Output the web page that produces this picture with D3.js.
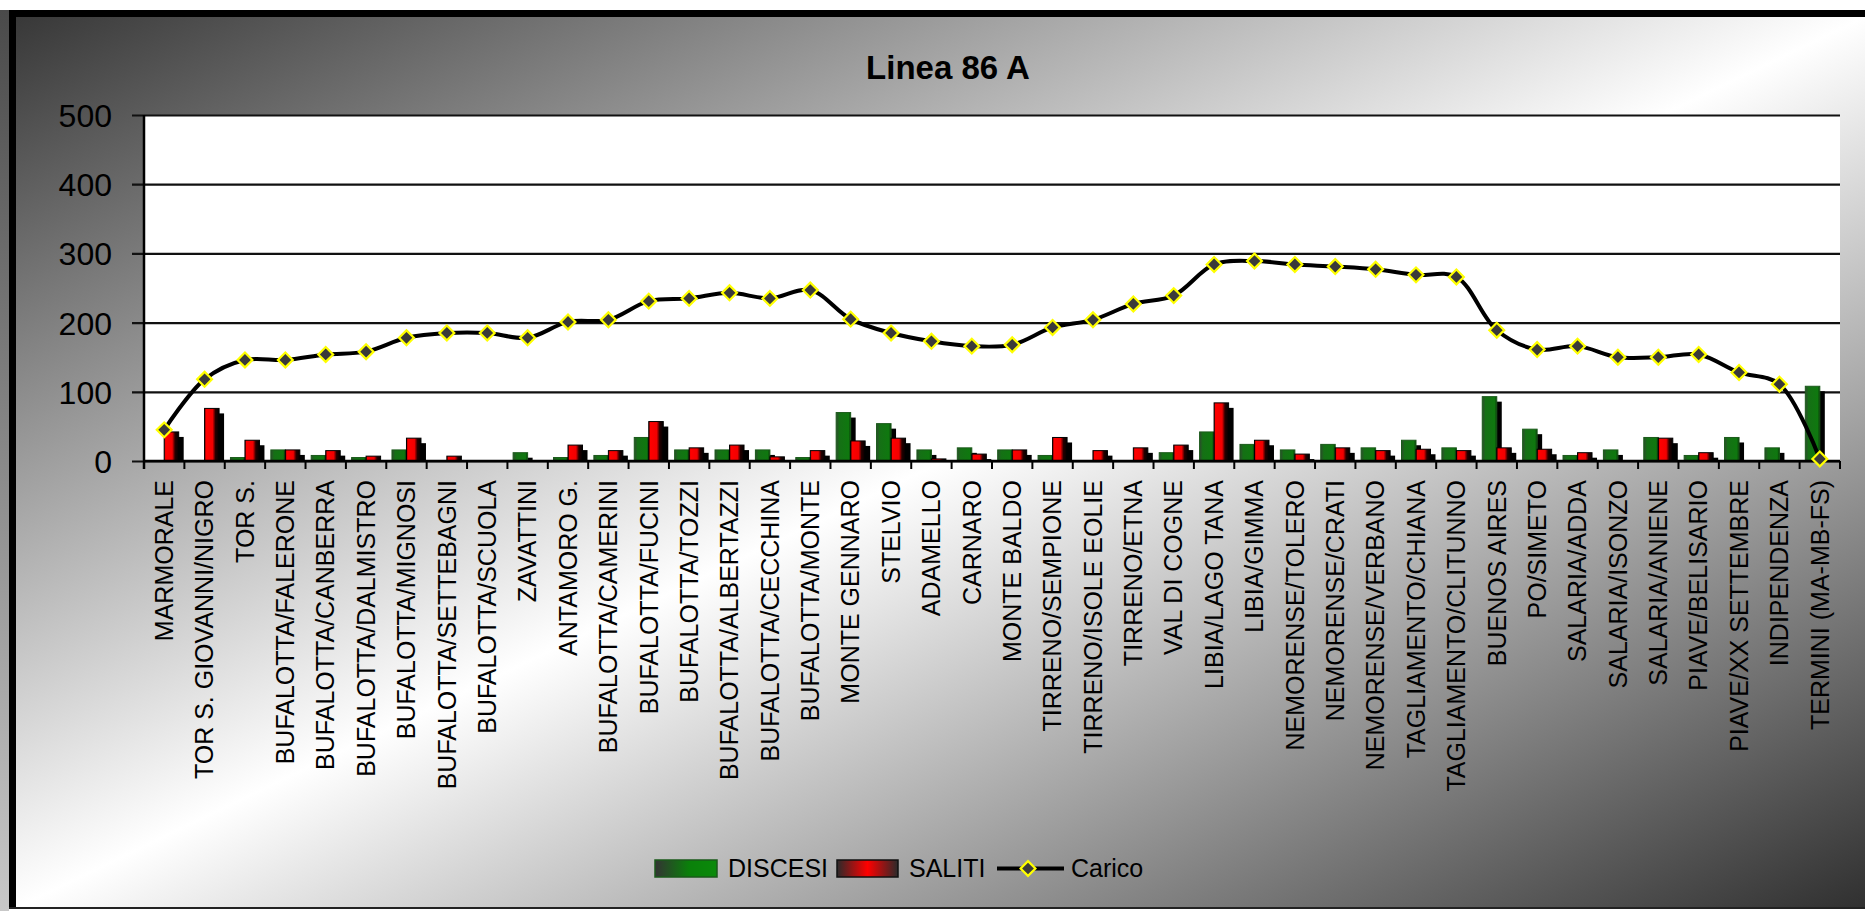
<!DOCTYPE html>
<html><head><meta charset="utf-8">
<script src="https://cdn.jsdelivr.net/npm/d3@7"></script>
<style>
body{margin:0;background:#fff;overflow:hidden}
svg{display:block}
text{font-family:"Liberation Sans",Arial,sans-serif;fill:#000}
</style>
</head><body>
<svg id="c" width="1865" height="911"></svg>
<script>
const title = "Linea 86 A";
const categories = ["MARMORALE","TOR S. GIOVANNI/NIGRO","TOR S.","BUFALOTTA/FALERONE","BUFALOTTA/CANBERRA","BUFALOTTA/DALMISTRO","BUFALOTTA/MIGNOSI","BUFALOTTA/SETTEBAGNI","BUFALOTTA/SCUOLA","ZAVATTINI","ANTAMORO G.","BUFALOTTA/CAMERINI","BUFALOTTA/FUCINI","BUFALOTTA/TOZZI","BUFALOTTA/ALBERTAZZI","BUFALOTTA/CECCHINA","BUFALOTTA/MONTE","MONTE GENNARO","STELVIO","ADAMELLO","CARNARO","MONTE BALDO","TIRRENO/SEMPIONE","TIRRENO/ISOLE EOLIE","TIRRENO/ETNA","VAL DI COGNE","LIBIA/LAGO TANA","LIBIA/GIMMA","NEMORENSE/TOLERO","NEMORENSE/CRATI","NEMORENSE/VERBANO","TAGLIAMENTO/CHIANA","TAGLIAMENTO/CLITUNNO","BUENOS AIRES","PO/SIMETO","SALARIA/ADDA","SALARIA/ISONZO","SALARIA/ANIENE","PIAVE/BELISARIO","PIAVE/XX SETTEMBRE","INDIPENDENZA","TERMINI (MA-MB-FS)"];
const discesi = [0,0,5,16,8,5,16,0,0,12,5,8,34,16,16,16,5,70,54,16,19,16,8,0,0,12,42,24,16,24,19,30,19,93,46,8,16,34,8,34,19,108];
const saliti = [42,76,30,16,15,7,33,7,0,0,23,15,57,19,23,6,15,29,33,3,10,16,34,15,19,23,84,30,10,19,15,17,15,19,17,12,0,33,12,0,0,0];
const carico = [45,118,146,146,154,158,178,185,185,178,201,204,231,235,243,235,247,205,185,173,166,168,193,204,227,239,284,289,284,281,277,269,266,189,161,166,150,150,154,128,111,3];
const yTicks = [0,100,200,300,400,500];
const seriesNames = ["DISCESI","SALITI","Carico"];

const W = 1865, H = 911;
const svg = d3.select("#c");
const defs = svg.append("defs");

function grad(id, x2, y2, stops){
  const g = defs.append("linearGradient").attr("id", id)
    .attr("x1",0).attr("y1",0).attr("x2",x2).attr("y2",y2);
  stops.forEach(s => g.append("stop").attr("offset", s[0]).attr("stop-color", s[1]));
}
grad("bg", 1, 1, [[0,"#383838"],[0.5,"#ffffff"],[1,"#303030"]]);
grad("strip", 0, 1, [[0,"#4a4a4a"],[1,"#c8c8c8"]]);
grad("gbar", 1, 0, [[0,"#2e4a2e"],[0.22,"#157015"],[0.85,"#0f780f"],[1,"#0b3a0b"]]);
grad("rbar", 1, 0, [[0,"#600000"],[0.1,"#ff0000"],[0.55,"#f20000"],[0.75,"#250000"],[1,"#000"]]);
grad("gleg", 1, 0, [[0,"#333"],[0.55,"#0a800a"],[1,"#0a8a0a"]]);
grad("rleg", 1, 0, [[0,"#2a2a2a"],[0.5,"#ff0000"],[1,"#2a2a2a"]]);

// background & frame
svg.append("rect").attr("x",0).attr("y",10).attr("width",9).attr("height",H-10).attr("fill","url(#strip)");
svg.append("rect").attr("x",16).attr("y",17).attr("width",W-16).attr("height",891).attr("fill","url(#bg)");
svg.append("rect").attr("x",9).attr("y",10).attr("width",W-9).attr("height",7).attr("fill","#000");
svg.append("rect").attr("x",9).attr("y",10).attr("width",7).attr("height",899).attr("fill","#000");
svg.append("rect").attr("x",9).attr("y",907).attr("width",W-9).attr("height",2).attr("fill","#222");

const m = {l:144, r:1840, t:115, b:461};
const x = d3.scaleBand().domain(categories).range([m.l, m.r]).padding(0);
const y = d3.scaleLinear().domain([0,500]).range([m.b, m.t]);
const cx = c => x(c) + x.bandwidth()/2;

// title
svg.append("text").attr("x",948).attr("y",79).attr("text-anchor","middle")
  .style("font-size","33px").style("font-weight","bold").text(title);

// plot area
svg.append("rect").attr("x",m.l).attr("y",m.t).attr("width",m.r-m.l).attr("height",m.b-m.t).attr("fill","#fff");

// y axis with gridlines
const ya = svg.append("g").attr("transform",`translate(${m.l},0)`)
  .call(d3.axisLeft(y).tickValues(yTicks).tickSizeInner(-(m.r-m.l)).tickSizeOuter(0).tickPadding(32));
ya.select(".domain").remove();
ya.selectAll(".tick line").attr("x1",-12).attr("stroke","#111").attr("stroke-width",2.2);
ya.selectAll(".tick text").style("font-size","32px").attr("fill","#1a1a1a").attr("dy","0.36em");

// bars
const w = 14.5, sx = 5, sy = 5;
const barData = [];
categories.forEach((c,i)=>{
  barData.push({c, v:discesi[i], s:0});
  barData.push({c, v:saliti[i], s:1});
});
const bx = d => d.s===0 ? cx(d.c)-w : cx(d.c);
const bars = svg.append("g");
barData.forEach(d=>{
  if (d.v<=0) return;
  const top = y(d.v);
  const sh = Math.max(0, y(0) - top - sy);
  if (sh>0) bars.append("rect").attr("x",bx(d)+sx).attr("y",top+sy).attr("width",w).attr("height",sh).attr("fill","#000");
  bars.append("rect").attr("x",bx(d)).attr("y",top).attr("width",w).attr("height",y(0)-top)
    .attr("fill", d.s===0 ? "url(#gbar)" : "url(#rbar)")
    .attr("stroke", d.s===0 ? "#1a5a1a" : "#000").attr("stroke-width",1);
});

// x axis
svg.append("line").attr("x1",m.l).attr("x2",m.r).attr("y1",m.b).attr("y2",m.b).attr("stroke","#000").attr("stroke-width",2.5);
svg.append("line").attr("x1",m.l).attr("x2",m.l).attr("y1",m.t).attr("y2",m.b+8).attr("stroke","#000").attr("stroke-width",2.5);
const bounds = categories.map(c=>x(c)).concat([m.r]);
svg.append("g").selectAll("line").data(bounds).join("line")
  .attr("x1",d=>d).attr("x2",d=>d).attr("y1",m.b).attr("y2",m.b+8).attr("stroke","#000").attr("stroke-width",2);
const xa = svg.append("g").attr("transform",`translate(0,${m.b})`)
  .call(d3.axisBottom(x).tickSize(0).tickPadding(0));
xa.select(".domain").remove();
xa.selectAll(".tick text").attr("transform","rotate(-90)").attr("text-anchor","end")
  .attr("x",-19).attr("y",0).attr("dy","0.35em").style("font-size","25px").attr("fill","#000");

// carico line
const line = d3.line().x((d,i)=>cx(categories[i])).y(d=>y(d)).curve(d3.curveCatmullRom.alpha(0.5));
svg.append("path").attr("d",line(carico)).attr("fill","none").attr("stroke","#000").attr("stroke-width",4);
const sym = d3.symbol(d3.symbolSquare, 110);
svg.append("g").selectAll("path").data(carico).join("path")
  .attr("d",sym).attr("transform",(d,i)=>`translate(${cx(categories[i])},${y(d)}) rotate(45)`)
  .attr("fill","#3a3a3a").attr("stroke","#ffff00").attr("stroke-width",2.2);

// legend
const lg = svg.append("g");
lg.append("rect").attr("x",655).attr("y",860).attr("width",62).attr("height",17).attr("fill","url(#gleg)").attr("stroke","#1a5a1a").attr("stroke-width",1.5);
lg.append("text").attr("x",728).attr("y",877).style("font-size","25px").text(seriesNames[0]);
lg.append("rect").attr("x",837).attr("y",860).attr("width",61).attr("height",17).attr("fill","url(#rleg)").attr("stroke","#111").attr("stroke-width",1.5);
lg.append("text").attr("x",909).attr("y",877).style("font-size","25px").text(seriesNames[1]);
lg.append("line").attr("x1",997).attr("x2",1064).attr("y1",868.5).attr("y2",868.5).attr("stroke","#000").attr("stroke-width",4);
lg.append("path").attr("d",sym).attr("transform","translate(1028,868.5) rotate(45)").attr("fill","#3a3a3a").attr("stroke","#ffff00").attr("stroke-width",2.2);
lg.append("text").attr("x",1071).attr("y",877).style("font-size","25px").text(seriesNames[2]);
</script>
</body></html>
